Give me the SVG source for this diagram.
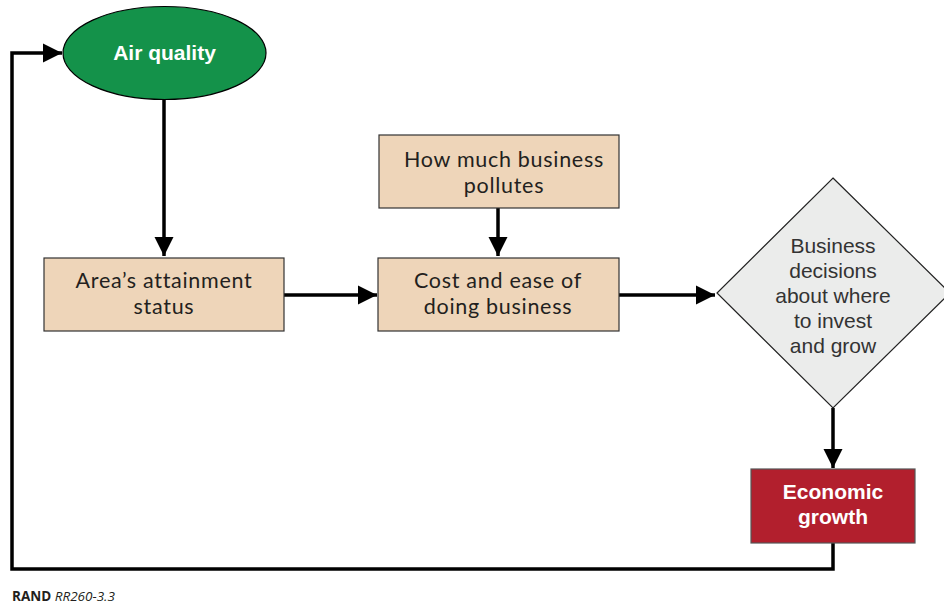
<svg xmlns="http://www.w3.org/2000/svg" width="944" height="606" viewBox="0 0 944 606">
<defs>
<marker id="ah" viewBox="0 0 10 10" refX="10" refY="5" markerWidth="5.5" markerHeight="5.5" orient="auto" markerUnits="strokeWidth"><path d="M0,0 L10,5 L0,10 z" fill="#000"/></marker>
<style>
.con{fill:none;stroke:#000;stroke-width:3.5}
.tan{fill:#EED5B9;stroke:#333;stroke-width:1.2}
.t{font-family:Lato,"Open Sans",sans-serif;font-size:21.5px;letter-spacing:0.7px;fill:#231f20;text-anchor:middle}
.d{font-family:"Liberation Sans",Arial,sans-serif;font-size:21px;fill:#333;text-anchor:middle}
.w{font-family:"Liberation Sans",Arial,sans-serif;font-size:21px;font-weight:bold;fill:#fff;text-anchor:middle}
</style>
</defs>
<rect width="944" height="606" fill="#fff"/>
<g id="connectors">
<path class="con" d="M164,100 V256" marker-end="url(#ah)"/>
<path class="con" d="M284,295 H377" marker-end="url(#ah)"/>
<path class="con" d="M498,208 V256" marker-end="url(#ah)"/>
<path class="con" d="M619,295 H715" marker-end="url(#ah)"/>
<path class="con" d="M833,408 V468" marker-end="url(#ah)"/>
<path class="con" d="M833,543 V569 H12 V53 H62" marker-end="url(#ah)"/>
</g>
<g id="air-quality">
<ellipse cx="164.5" cy="53" rx="101.5" ry="46.5" fill="#14924A" stroke="#000" stroke-width="1.2"/>
<text class="w" x="164.5" y="60">Air quality</text>
</g>
<g id="attainment">
<rect class="tan" x="44" y="258" width="240" height="73"/>
<text class="t" x="164" y="288">Area’s attainment</text>
<text class="t" x="164" y="314">status</text>
</g>
<g id="pollutes">
<rect class="tan" x="379" y="135" width="240" height="73"/>
<text class="t" x="504" y="167">How much business</text>
<text class="t" x="504" y="193">pollutes</text>
</g>
<g id="cost">
<rect class="tan" x="378" y="258" width="241" height="73"/>
<text class="t" x="498" y="288">Cost and ease of</text>
<text class="t" x="498" y="314">doing business</text>
</g>
<g id="decisions">
<path d="M833,178 L950,293 L833,408 L717,293 Z" fill="#EBECEB" stroke="#222" stroke-width="1.2"/>
<text class="d" x="833" y="253">Business</text>
<text class="d" x="833" y="278">decisions</text>
<text class="d" x="833" y="303">about where</text>
<text class="d" x="833" y="328">to invest</text>
<text class="d" x="833" y="353">and grow</text>
</g>
<g id="growth">
<rect x="751" y="469" width="164" height="74" fill="#B21F2D" stroke="#555" stroke-width="1.2"/>
<text class="w" x="833" y="499">Economic</text>
<text class="w" x="833" y="524">growth</text>
</g>
<text x="12" y="601" font-family="Open Sans,Noto Sans,sans-serif" font-size="13.5" fill="#231f20"><tspan font-weight="bold">RAND</tspan> <tspan font-style="italic">RR260-3.3</tspan></text>
</svg>
